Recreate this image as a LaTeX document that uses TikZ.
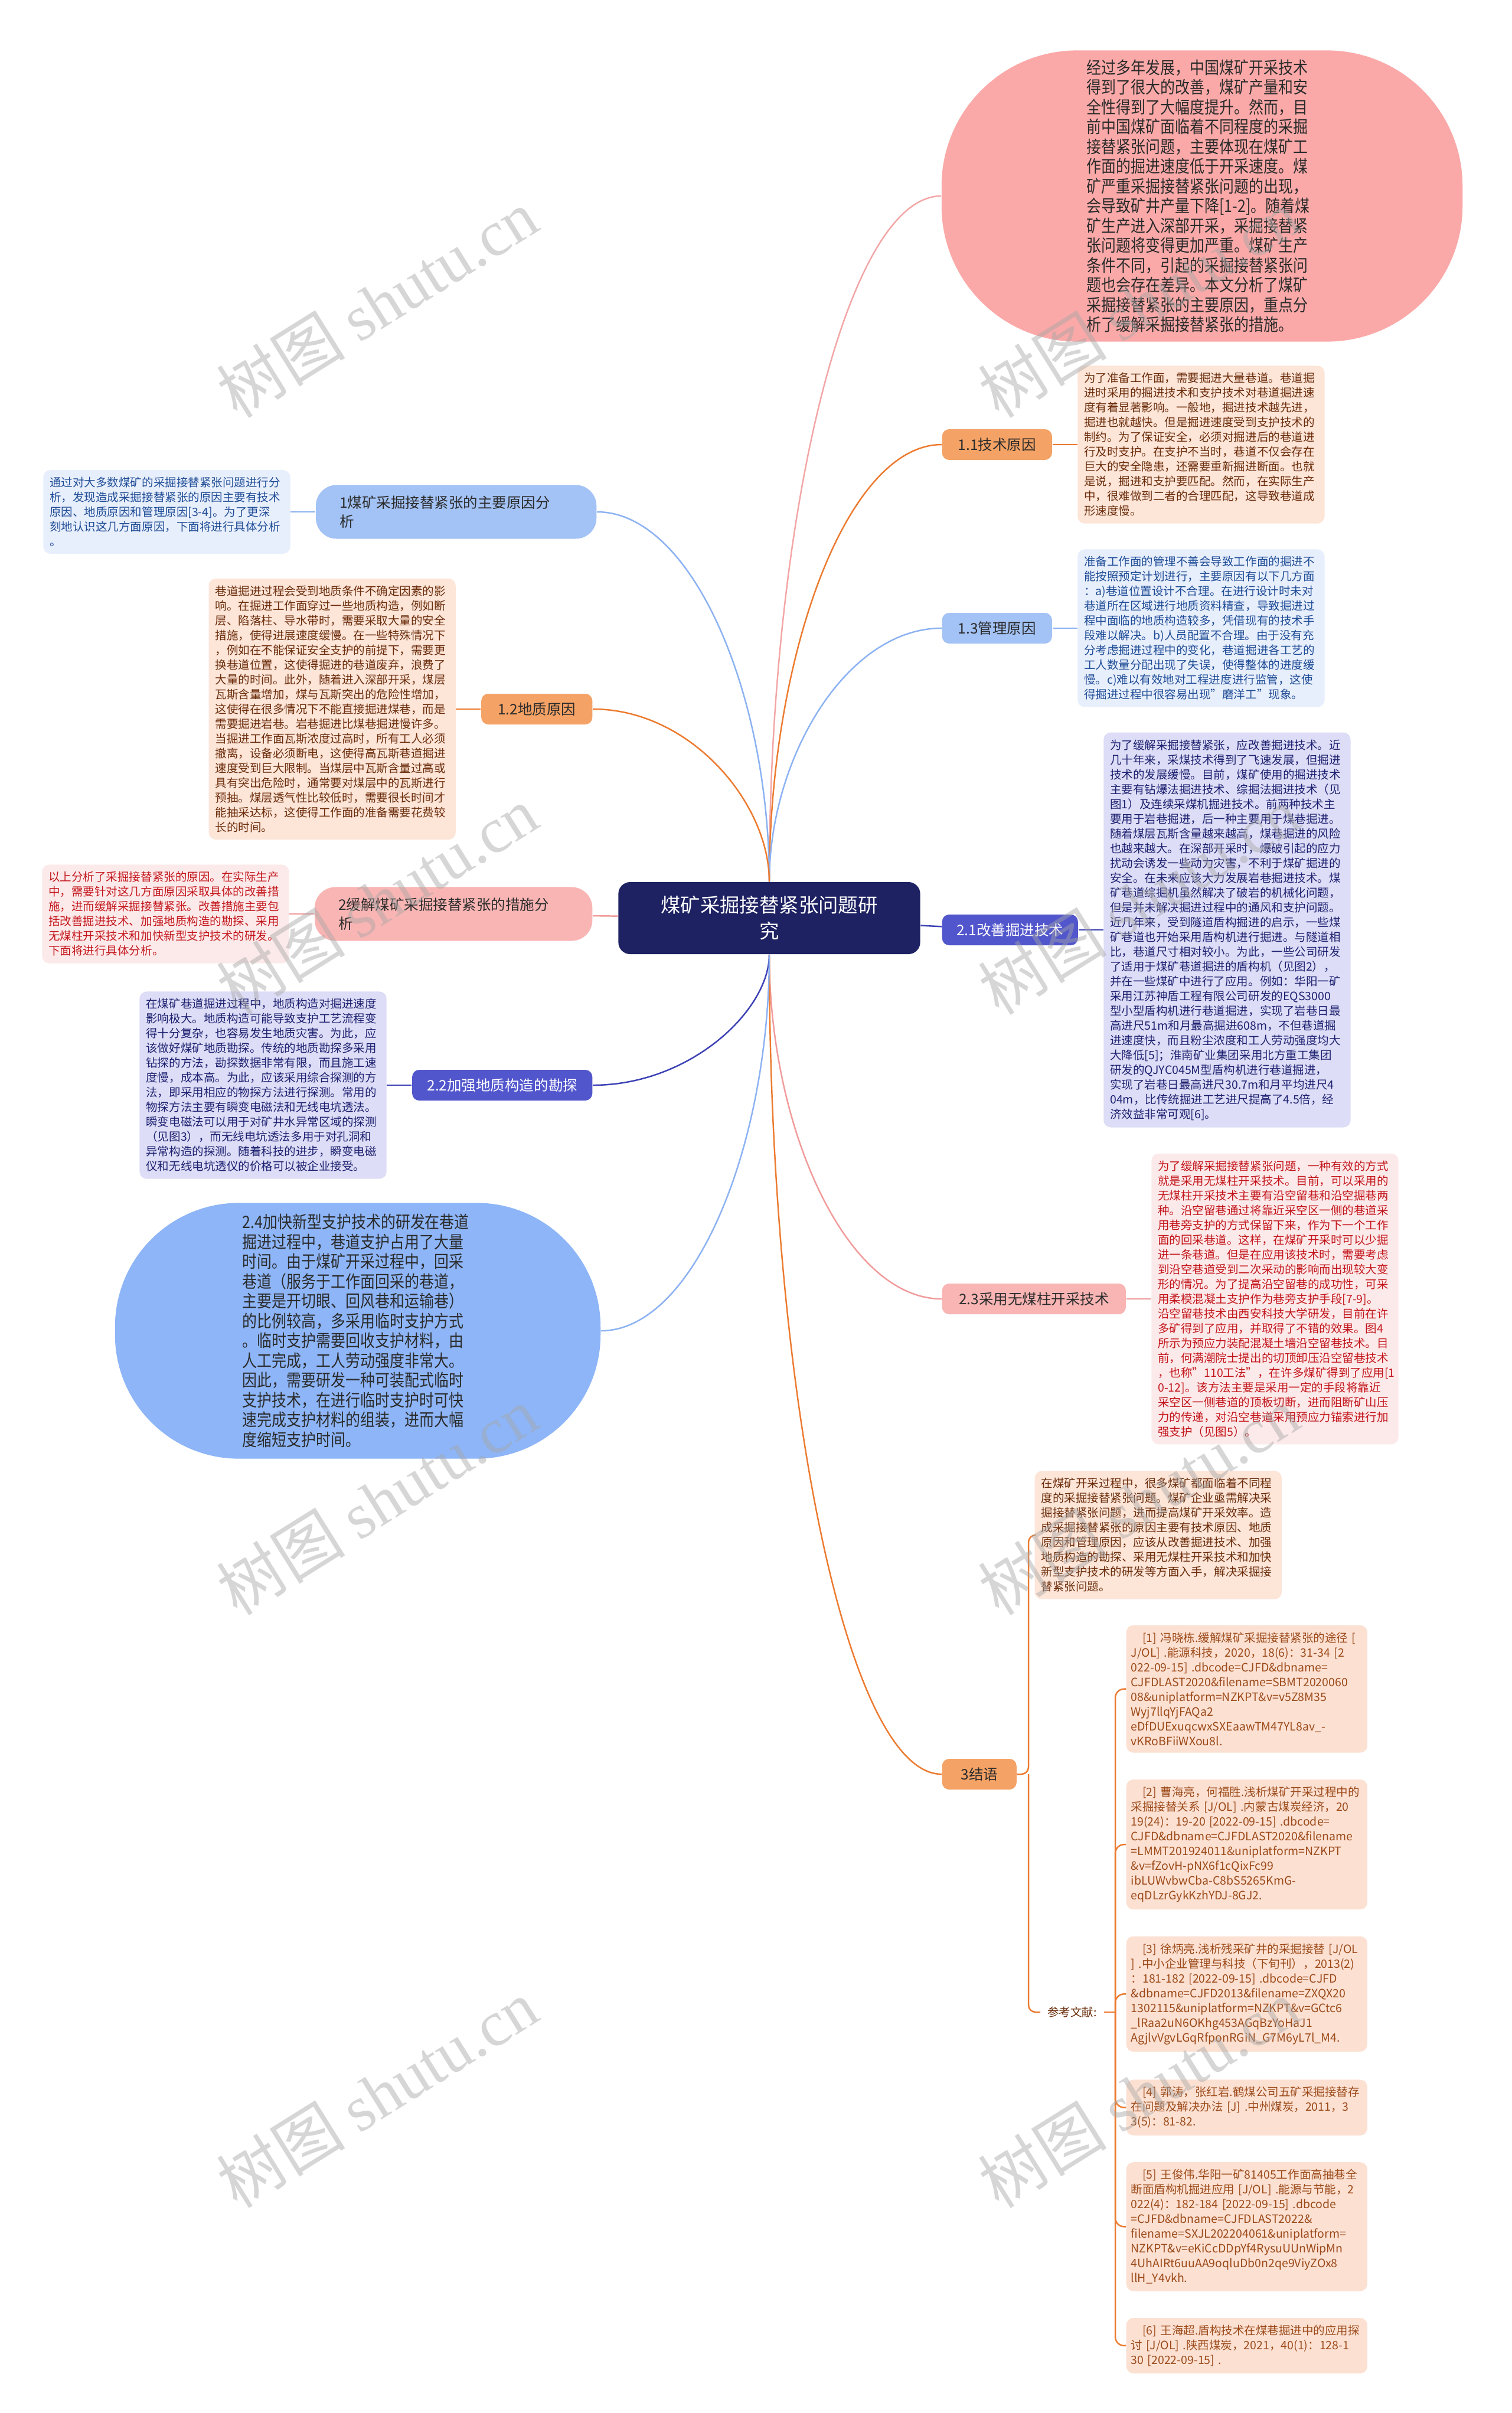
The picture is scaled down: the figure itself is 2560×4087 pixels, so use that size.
\documentclass[tikz,border=0pt]{standalone}
\usepackage{fontspec}
\setmainfont{Noto Sans CJK SC}
\newfontfamily\narrowcjk[FakeStretch=0.86]{Noto Sans CJK SC}
\newfontfamily\markserif{Liberation Serif}
\usepackage{tikz}
\usetikzlibrary{positioning,calc}
\definecolor{RootNavy}{HTML}{1E2262}
\definecolor{IntroPink}{HTML}{FAA9A8}
\definecolor{SkyBlue}{HTML}{8DB5F7}
\definecolor{TopicBlue}{HTML}{A3C2F5}
\definecolor{TopicOrange}{HTML}{F4A265}
\definecolor{TopicIndigo}{HTML}{5256CC}
\definecolor{TopicPink}{HTML}{F8B5B4}
\definecolor{NoteBlue}{HTML}{E8EFFC}
\definecolor{NoteBlueInk}{HTML}{1E4C96}
\definecolor{NoteOrange}{HTML}{FDE5D8}
\definecolor{NoteOrangeInk}{HTML}{6B2D0B}
\definecolor{NoteIndigo}{HTML}{DDDDF7}
\definecolor{NoteIndigoInk}{HTML}{1E2170}
\definecolor{NotePink}{HTML}{FCEAEA}
\definecolor{NotePinkInk}{HTML}{C3161C}
\definecolor{RefPeach}{HTML}{FCE1D3}
\definecolor{RefInk}{HTML}{9C4A19}
\definecolor{LinkBlue}{HTML}{8CB2F2}
\definecolor{LinkOrange}{HTML}{EC7B30}
\definecolor{LinkIndigo}{HTML}{3D42B5}
\definecolor{LinkPink}{HTML}{F19B9B}
\definecolor{LinkPinkSoft}{HTML}{F3A6A6}
\definecolor{InkDark}{HTML}{2B2B2B}

\begin{document}
\begin{tikzpicture}[x=0.01cm,y=-0.01cm,
  node distance=4.2mm,
  root/.style={rounded corners=2mm,fill=RootNavy,text=white,minimum width=5.11cm,
    minimum height=1.22cm,text width=3.8cm,align=center,font=\fontsize{9.5}{12.5}\selectfont},
  bubble/.style={rounded corners=2.3cm,text=InkDark,text width=3.9cm,align=left,
    font=\narrowcjk\fontsize{8.25}{9.53}\selectfont},
  topic/.style={rounded corners=1.2mm,minimum height=0.52cm,inner xsep=0.8mm,
    text=InkDark,font=\fontsize{6.97}{9.1}\selectfont},
  pill/.style={topic,rounded corners=3.5mm,minimum height=0.91cm,text width=3.95cm,
    inner xsep=4mm,align=left},
  note/.style={rounded corners=1.2mm,text width=3.96cm,inner xsep=1.1mm,inner ysep=1.2mm,
    align=left,font=\fontsize{5.55}{7.11}\selectfont},
  refbox/.style={note,fill=RefPeach,text=RefInk,text width=3.92cm,inner xsep=0.8mm},
  link/.style={line width=0.7pt},
  wmark/.style={text=black!35,opacity=0.45,rotate=32,font=\fontsize{31}{31}\selectfont}
]
\path[use as bounding box,fill=white] (0,0) rectangle (2560,4087);

% root
\node[root] (ctr) at (1303,1555) {煤矿采掘接替紧张问题研\\究};

% right side
\node[bubble,fill=IntroPink,minimum width=8.82cm,minimum height=4.93cm] (intro) at (2036,332) {经过多年发展，中国煤矿开采技术\\得到了很大的改善，煤矿产量和安\\全性得到了大幅度提升。然而，目\\前中国煤矿面临着不同程度的采掘\\接替紧张问题，主要体现在煤矿工\\作面的掘进速度低于开采速度。煤\\矿严重采掘接替紧张问题的出现，\\会导致矿井产量下降[1-2]。随着煤\\矿生产进入深部开采，采掘接替紧\\张问题将变得更加严重。煤矿生产\\条件不同，引起的采掘接替紧张问\\题也会存在差异。本文分析了煤矿\\采掘接替紧张的主要原因，重点分\\析了缓解采掘接替紧张的措施。};

\node[topic,fill=TopicOrange,minimum width=1.86cm,anchor=west] (tech) at (1595,753) {1.1技术原因};
\node[note,fill=NoteOrange,text=NoteOrangeInk,right=of tech] (techtxt) {为了准备工作面，需要掘进大量巷道。巷道掘\\进时采用的掘进技术和支护技术对巷道掘进速\\度有着显著影响。一般地，掘进技术越先进，\\掘进也就越快。但是掘进速度受到支护技术的\\制约。为了保证安全，必须对掘进后的巷道进\\行及时支护。在支护不当时，巷道不仅会存在\\巨大的安全隐患，还需要重新掘进断面。也就\\是说，掘进和支护要匹配。然而，在实际生产\\中，很难做到二者的合理匹配，这导致巷道成\\形速度慢。};

\node[topic,fill=TopicBlue,minimum width=1.86cm,anchor=west] (mgmt) at (1595,1064) {1.3管理原因};
\node[note,fill=NoteBlue,text=NoteBlueInk,right=of mgmt] (mgmttxt) {准备工作面的管理不善会导致工作面的掘进不\\能按照预定计划进行，主要原因有以下几方面\\：a)巷道位置设计不合理。在进行设计时未对\\巷道所在区域进行地质资料精查，导致掘进过\\程中面临的地质构造较多，凭借现有的技术手\\段难以解决。b)人员配置不合理。由于没有充\\分考虑掘进过程中的变化，巷道掘进各工艺的\\工人数量分配出现了失误，使得整体的进度缓\\慢。c)难以有效地对工程进度进行监管，这使\\得掘进过程中很容易出现"磨洋工"现象。};

\node[topic,fill=TopicIndigo,text=white,minimum width=2.3cm,anchor=west] (impr) at (1595,1575) {2.1改善掘进技术};
\node[note,fill=NoteIndigo,text=NoteIndigoInk,right=of impr] (imprtxt) {为了缓解采掘接替紧张，应改善掘进技术。近\\几十年来，采煤技术得到了飞速发展，但掘进\\技术的发展缓慢。目前，煤矿使用的掘进技术\\主要有钻爆法掘进技术、综掘法掘进技术（见\\图1）及连续采煤机掘进技术。前两种技术主\\要用于岩巷掘进，后一种主要用于煤巷掘进。\\随着煤层瓦斯含量越来越高，煤巷掘进的风险\\也越来越大。在深部开采时，爆破引起的应力\\扰动会诱发一些动力灾害，不利于煤矿掘进的\\安全。在未来应该大力发展岩巷掘进技术。煤\\矿巷道综掘机虽然解决了破岩的机械化问题，\\但是并未解决掘进过程中的通风和支护问题。\\近几年来，受到隧道盾构掘进的启示，一些煤\\矿巷道也开始采用盾构机进行掘进。与隧道相\\比，巷道尺寸相对较小。为此，一些公司研发\\了适用于煤矿巷道掘进的盾构机（见图2），\\并在一些煤矿中进行了应用。例如：华阳一矿\\采用江苏神盾工程有限公司研发的EQS3000\\型小型盾构机进行巷道掘进，实现了岩巷日最\\高进尺51m和月最高掘进608m，不但巷道掘\\进速度快，而且粉尘浓度和工人劳动强度均大\\大降低[5]；淮南矿业集团采用北方重工集团\\研发的QJYC045M型盾构机进行巷道掘进，\\实现了岩巷日最高进尺30.7m和月平均进尺4\\04m，比传统掘进工艺进尺提高了4.5倍，经\\济效益非常可观[6]。};

\node[topic,fill=TopicPink,minimum width=3.11cm,anchor=west] (gob) at (1595,2200) {2.3采用无煤柱开采技术};
\node[note,fill=NotePink,text=NotePinkInk,right=of gob] (gobtxt) {为了缓解采掘接替紧张问题，一种有效的方式\\就是采用无煤柱开采技术。目前，可以采用的\\无煤柱开采技术主要有沿空留巷和沿空掘巷两\\种。沿空留巷通过将靠近采空区一侧的巷道采\\用巷旁支护的方式保留下来，作为下一个工作\\面的回采巷道。这样，在煤矿开采时可以少掘\\进一条巷道。但是在应用该技术时，需要考虑\\到沿空巷道受到二次采动的影响而出现较大变\\形的情况。为了提高沿空留巷的成功性，可采\\用柔模混凝土支护作为巷旁支护手段[7-9]。\\沿空留巷技术由西安科技大学研发，目前在许\\多矿得到了应用，并取得了不错的效果。图4\\所示为预应力装配混凝土墙沿空留巷技术。目\\前，何满潮院士提出的切顶卸压沿空留巷技术\\，也称"110工法"，在许多煤矿得到了应用[1\\0-12]。该方法主要是采用一定的手段将靠近\\采空区一侧巷道的顶板切断，进而阻断矿山压\\力的传递，对沿空巷道采用预应力锚索进行加\\强支护（见图5）。};

\node[topic,fill=TopicOrange,minimum width=1.26cm,anchor=west] (concl) at (1595,3005) {3结语};
\node[note,fill=NoteOrange,text=NoteOrangeInk,anchor=west] (concltxt) at (1752,2600) {在煤矿开采过程中，很多煤矿都面临着不同程\\度的采掘接替紧张问题。煤矿企业亟需解决采\\掘接替紧张问题，进而提高煤矿开采效率。造\\成采掘接替紧张的原因主要有技术原因、地质\\原因和管理原因，应该从改善掘进技术、加强\\地质构造的勘探、采用无煤柱开采技术和加快\\新型支护技术的研发等方面入手，解决采掘接\\替紧张问题。};
\node[anchor=west,text=NoteOrangeInk,font=\fontsize{5.55}{7}\selectfont] (refhead) at (1762,3408) {参考文献:};

\node[refbox,anchor=north west] (ref1) at (1907,2752) {\hspace*{1em}[1]~冯晓栋.缓解煤矿采掘接替紧张的途径~[\\J/OL]~.能源科技，2020，18(6)：31-34~[2\\022-09-15]~.dbcode=CJFD\&dbname=\\CJFDLAST2020\&filename=SBMT2020060\\08\&uniplatform=NZKPT\&v=v5Z8M35\\Wyj7llqYjFAQa2\\eDfDUExuqcwxSXEaawTM47YL8av\_-\\vKRoBFiiWXou8l.};
\node[refbox,below=4.4mm of ref1] (ref2) {\hspace*{1em}[2]~曹海亮，何福胜.浅析煤矿开采过程中的\\采掘接替关系~[J/OL]~.内蒙古煤炭经济，20\\19(24)：19-20~[2022-09-15]~.dbcode=\\CJFD\&dbname=CJFDLAST2020\&filename\\=LMMT201924011\&uniplatform=NZKPT\\\&v=fZovH-pNX6f1cQixFc99\\ibLUWvbwCba-C8bS5265KmG-\\eqDLzrGykKzhYDJ-8GJ2.};
\node[refbox,below=4.4mm of ref2] (ref3) {\hspace*{1em}[3]~徐炳亮.浅析残采矿井的采掘接替~[J/OL\\]~.中小企业管理与科技（下旬刊），2013(2)\\：181-182~[2022-09-15]~.dbcode=CJFD\\\&dbname=CJFD2013\&filename=ZXQX20\\1302115\&uniplatform=NZKPT\&v=GCtc6\\\_lRaa2uN6OKhg453AGqBzYoHaJ1\\AgjlvVgvLGqRfponRGiN\_G7M6yL7l\_M4.};
\node[refbox,below=4.6mm of ref3] (ref4) {\hspace*{1em}[4]~郭涛，张红岩.鹤煤公司五矿采掘接替存\\在问题及解决办法~[J]~.中州煤炭，2011，3\\3(5)：81-82.};
\node[refbox,below=4.4mm of ref4] (ref5) {\hspace*{1em}[5]~王俊伟.华阳一矿81405工作面高抽巷全\\断面盾构机掘进应用~[J/OL]~.能源与节能，2\\022(4)：182-184~[2022-09-15]~.dbcode\\=CJFD\&dbname=CJFDLAST2022\&\\filename=SXJL202204061\&uniplatform=\\NZKPT\&v=eKiCcDDpYf4RysuUUnWipMn\\4UhAIRt6uuAA9oqluDb0n2qe9ViyZOx8\\llH\_Y4vkh.};
\node[refbox,below=4.4mm of ref5] (ref6) {\hspace*{1em}[6]~王海超.盾构技术在煤巷掘进中的应用探\\讨~[J/OL]~.陕西煤炭，2021，40(1)：128-1\\30~[2022-09-15]~.};

% left side
\node[pill,fill=TopicBlue,anchor=east] (cause) at (1011,867) {1煤矿采掘接替紧张的主要原因分\\析};
\node[note,fill=NoteBlue,text=NoteBlueInk,left=of cause] (causetxt) {通过对大多数煤矿的采掘接替紧张问题进行分\\析，发现造成采掘接替紧张的原因主要有技术\\原因、地质原因和管理原因[3-4]。为了更深\\刻地认识这几方面原因，下面将进行具体分析\\。};

\node[topic,fill=TopicOrange,minimum width=1.88cm,anchor=east] (geo) at (1004,1201) {1.2地质原因};
\node[note,fill=NoteOrange,text=NoteOrangeInk,left=of geo] (geotxt) {巷道掘进过程会受到地质条件不确定因素的影\\响。在掘进工作面穿过一些地质构造，例如断\\层、陷落柱、导水带时，需要采取大量的安全\\措施，使得进展速度缓慢。在一些特殊情况下\\，例如在不能保证安全支护的前提下，需要更\\换巷道位置，这使得掘进的巷道废弃，浪费了\\大量的时间。此外，随着进入深部开采，煤层\\瓦斯含量增加，煤与瓦斯突出的危险性增加，\\这使得在很多情况下不能直接掘进煤巷，而是\\需要掘进岩巷。岩巷掘进比煤巷掘进慢许多。\\当掘进工作面瓦斯浓度过高时，所有工人必须\\撤离，设备必须断电，这使得高瓦斯巷道掘进\\速度受到巨大限制。当煤层中瓦斯含量过高或\\具有突出危险时，通常要对煤层中的瓦斯进行\\预抽。煤层透气性比较低时，需要很长时间才\\能抽采达标，这使得工作面的准备需要花费较\\长的时间。};

\node[pill,fill=TopicPink,text width=3.9cm,anchor=east] (relief) at (1004,1548) {2缓解煤矿采掘接替紧张的措施分\\析};
\node[note,fill=NotePink,text=NotePinkInk,left=of relief] (relieftxt) {以上分析了采掘接替紧张的原因。在实际生产\\中，需要针对这几方面原因采取具体的改善措\\施，进而缓解采掘接替紧张。改善措施主要包\\括改善掘进技术、加强地质构造的勘探、采用\\无煤柱开采技术和加快新型支护技术的研发。\\下面将进行具体分析。};

\node[topic,fill=TopicIndigo,text=white,minimum width=3.05cm,anchor=east] (survey) at (1004,1838) {2.2加强地质构造的勘探};
\node[note,fill=NoteIndigo,text=NoteIndigoInk,left=of survey] (surveytxt) {在煤矿巷道掘进过程中，地质构造对掘进速度\\影响极大。地质构造可能导致支护工艺流程变\\得十分复杂，也容易发生地质灾害。为此，应\\该做好煤矿地质勘探。传统的地质勘探多采用\\钻探的方法，勘探数据非常有限，而且施工速\\度慢，成本高。为此，应该采用综合探测的方\\法，即采用相应的物探方法进行探测。常用的\\物探方法主要有瞬变电磁法和无线电坑透法。\\瞬变电磁法可以用于对矿井水异常区域的探测\\（见图3），而无线电坑透法多用于对孔洞和\\异常构造的探测。随着科技的进步，瞬变电磁\\仪和无线电坑透仪的价格可以被企业接受。};

\node[bubble,fill=SkyBlue,rounded corners=2.1cm,minimum width=8.22cm,minimum height=4.33cm] (support) at (606,2254) {2.4加快新型支护技术的研发在巷道\\掘进过程中，巷道支护占用了大量\\时间。由于煤矿开采过程中，回采\\巷道（服务于工作面回采的巷道，\\主要是开切眼、回风巷和运输巷）\\的比例较高，多采用临时支护方式\\。临时支护需要回收支护材料，由\\人工完成，工人劳动强度非常大。\\因此，需要研发一种可装配式临时\\支护技术，在进行临时支护时可快\\速完成支护材料的组装，进而大幅\\度缩短支护时间。};

% curved branches from the root
\foreach \tgt/\side/\col in {intro/west/LinkPinkSoft,tech/west/LinkOrange,mgmt/west/LinkBlue,
    gob/west/LinkPink,concl/west/LinkOrange,cause/east/LinkBlue,geo/east/LinkOrange,
    survey/east/LinkIndigo,support/east/LinkBlue}
  \draw[link,draw=\col] (ctr) .. controls ($(ctr.center)!0.552!(ctr.center|-\tgt.\side)$)
    and ($(\tgt.\side)!0.552!(ctr.center|-\tgt.\side)$) .. (\tgt.\side);
\draw[link,draw=LinkIndigo] (ctr) -- (impr);
\draw[link,draw=LinkPink] (ctr) -- (relief);

% topic to text
\draw[link,draw=LinkOrange] (tech) -- (techtxt);
\draw[link,draw=LinkBlue] (mgmt) -- (mgmttxt);
\draw[link,draw=LinkIndigo] (impr) -- (imprtxt);
\draw[link,draw=LinkPink] (gob) -- (gobtxt);
\draw[link,draw=LinkBlue] (cause) -- (causetxt);
\draw[link,draw=LinkOrange] (geo) -- (geotxt);
\draw[link,draw=LinkPink] (relief) -- (relieftxt);
\draw[link,draw=LinkIndigo] (survey) -- (surveytxt);

% conclusion brackets
\coordinate (jbus) at (1742,3005);
\coordinate (rbus) at (1889,3408);
\draw[link,draw=LinkOrange,rounded corners=1.2mm] (concl) -- (jbus) |- (concltxt);
\draw[link,draw=LinkOrange,rounded corners=1.2mm] (jbus) |- (refhead);
\draw[link,draw=LinkOrange] (refhead) -- (rbus);
\foreach \r in {ref1,ref2,ref3,ref4,ref5,ref6}
  \draw[link,draw=LinkOrange,rounded corners=1.5mm] (rbus) |- (\r);

% watermark
\foreach \wx/\wy [count=\i] in {639/514,639/1525,639/2542,639/3546,1929/514,1929/1525,1929/2542,1929/3546}
  \node[wmark] (mark\i) at (\wx,\wy) {树图 {\markserif shutu.cn}};
\end{tikzpicture}
\end{document}
